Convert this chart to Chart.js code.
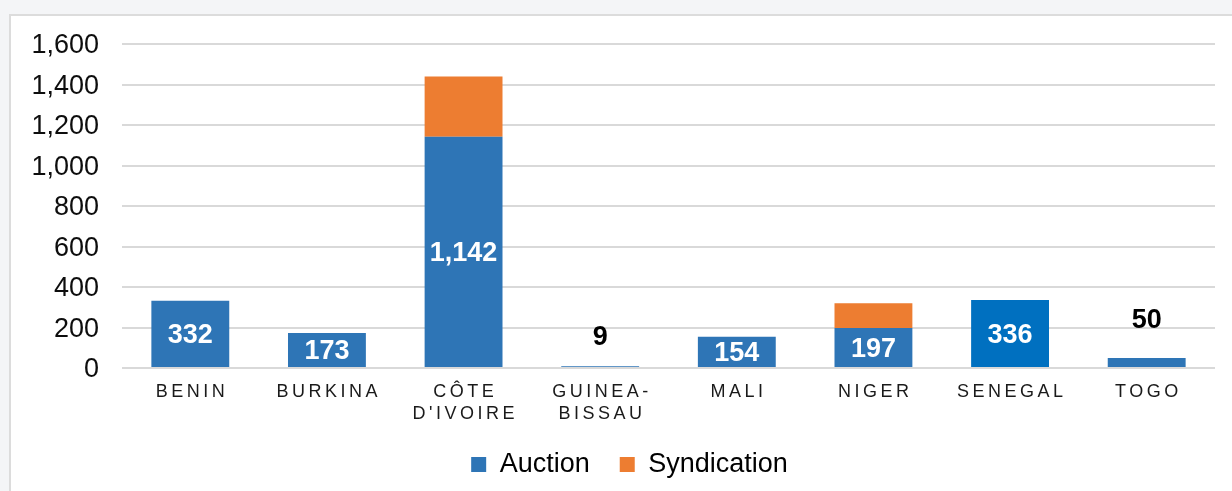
<!DOCTYPE html>
<html>
<head>
<meta charset="utf-8">
<script src="https://cdn.jsdelivr.net/npm/chart.js@4/dist/chart.umd.min.js"></script>
<style>
  html, body { margin: 0; padding: 0; }
  body { width: 1232px; height: 491px; background: #f4f5f7; position: relative; overflow: hidden; }
  #panel { position: absolute; left: 9px; top: 14px; width: 1240px; height: 500px; background: #fff; border: 2px solid #dcdcdc; }
  #wrap { position: absolute; left: 0; top: 0; width: 1232px; height: 491px; }
</style>
</head>
<body>
<div id="panel"></div>
<div id="wrap"><canvas id="chart" width="1232" height="491"></canvas></div>
<script>
// categories (multi-line tick labels)
const countries = [
  ["BENIN"], ["BURKINA"], ["CÔTE", "D'IVOIRE"], ["GUINEA-", "BISSAU"],
  ["MALI"], ["NIGER"], ["SENEGAL"], ["TOGO"]
];
// series values
const auction     = [332, 173, 1142, 9, 154, 197, 336, 50];
const syndication = [0, 0, 297, 0, 0, 123, 0, 0];
// y ticks
const yTicks = [0, 200, 400, 600, 800, 1000, 1200, 1400, 1600];

const FONT = "'Liberation Sans', Arial, sans-serif";
const BLUE = "#2e75b6";
const auctionColors = countries.map((c, i) => i === 6 ? "#0070c0" : BLUE);

// ── data labels on the auction bars ──────────────────────────
const valueLabels = {
  id: "valueLabels",
  afterDatasetsDraw(chart) {
    const ctx = chart.ctx;
    const meta = chart.getDatasetMeta(0);
    const above = { 3: 30, 7: 38 }; // small bars: label sits above
    ctx.save();
    ctx.font = "bold 27px " + FONT;
    ctx.textAlign = "center";
    ctx.textBaseline = "middle";
    meta.data.forEach((bar, i) => {
      const txt = auction[i].toLocaleString("en-US");
      if (above[i] !== undefined) {
        ctx.fillStyle = "#000";
        ctx.fillText(txt, bar.x, bar.y - above[i] + 1);
      } else {
        ctx.fillStyle = "#fff";
        ctx.fillText(txt, bar.x, (bar.y + bar.base) / 2 + 2);
      }
    });
    ctx.restore();
  }
};

// ── letter-spaced category labels ─────────────────────────────
const spacedTicks = {
  id: "spacedTicks",
  afterDraw(chart) {
    const ctx = chart.ctx;
    const x = chart.scales.x;
    ctx.save();
    ctx.font = "18px " + FONT;
    ctx.letterSpacing = "3.5px";
    ctx.fillStyle = "#1a1a1a";
    ctx.textAlign = "center";
    ctx.textBaseline = "middle";
    countries.forEach((lines, i) => {
      const px = x.getPixelForTick(i) + 1.75;
      lines.forEach((t, j) => ctx.fillText(t, px, x.top + 24 + j * 22));
    });
    ctx.restore();
  }
};

// legend sits a little right of the page centre, under the plot
const legendShift = {
  id: "legendShift",
  afterLayout(chart) {
    chart.legend.left += 17;
    chart.legend.right += 17;
  }
};

new Chart(document.getElementById("chart"), {
  type: "bar",
  data: {
    labels: countries,
    datasets: [
      {
        label: "Auction",
        data: auction,
        backgroundColor: auctionColors,
        borderWidth: 0,
        barPercentage: 0.57,
        categoryPercentage: 1,
      },
      {
        label: "Syndication",
        data: syndication,
        backgroundColor: "#ed7d31",
        borderWidth: 0,
        barPercentage: 0.57,
        categoryPercentage: 1,
      },
    ],
  },
  options: {
    responsive: false,
    animation: false,
    devicePixelRatio: 1,
    layout: { padding: { left: 10, right: 17, top: 44, bottom: 3 } },
    plugins: {
      legend: {
        position: "bottom",
        labels: {
          color: "#000",
          font: { family: FONT, size: 27 },
          boxWidth: 15,
          boxHeight: 15,
          padding: 30,
          generateLabels: chart => chart.data.datasets.map((d, i) => ({
            text: d.label,
            fillStyle: i === 0 ? BLUE : d.backgroundColor,
            strokeStyle: "transparent",
            lineWidth: 0,
            datasetIndex: i,
          })),
        },
      },
      tooltip: { enabled: false },
    },
    scales: {
      x: {
        stacked: true,
        grid: { display: false },
        border: { display: false },
        ticks: { display: false },
        afterFit: s => { s.height = 53; },
      },
      y: {
        stacked: true,
        min: 0,
        max: 1600,
        afterBuildTicks: s => { s.ticks = yTicks.map(v => ({ value: v })); },
        grid: { color: "#d9d9d9", lineWidth: 2, drawTicks: false },
        border: { display: false },
        ticks: {
          color: "#0d0d0d",
          font: { family: FONT, size: 27 },
          padding: 23,
          labelOffset: 2,
          callback: v => v.toLocaleString("en-US"),
        },
        afterFit: s => { s.width = 112; },
      },
    },
  },
  plugins: [valueLabels, spacedTicks, legendShift],
});
</script>
</body>
</html>
